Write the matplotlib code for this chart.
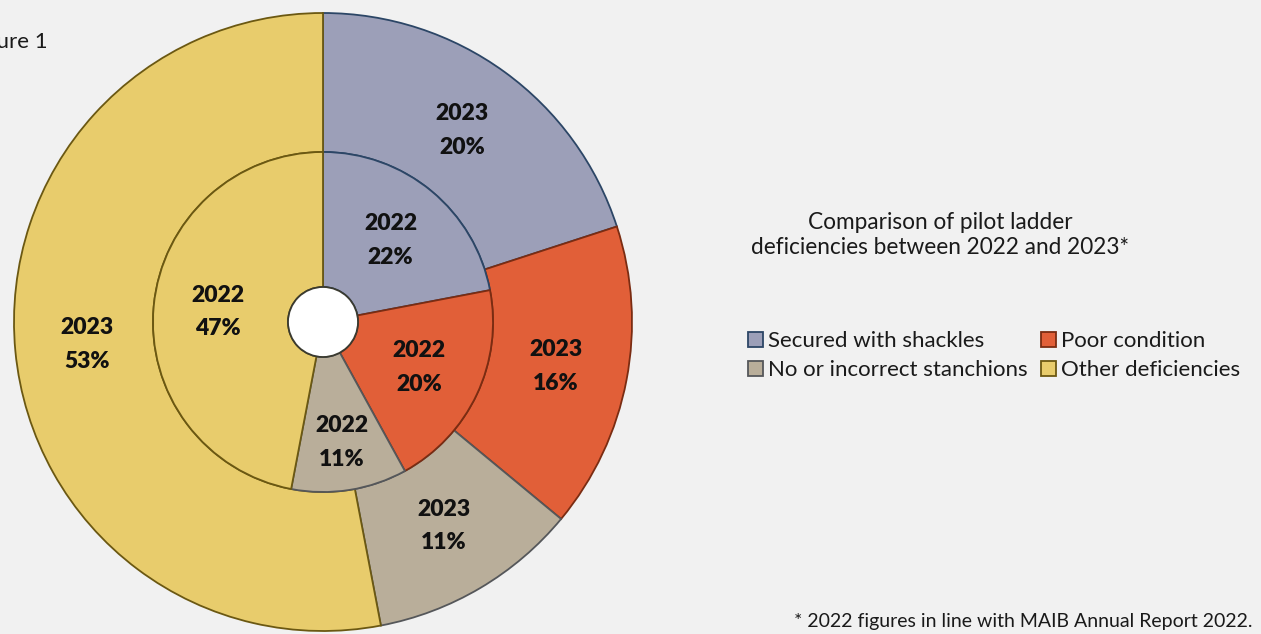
import matplotlib
matplotlib.use("Agg")
import matplotlib.pyplot as plt
from matplotlib.patches import Circle
import numpy as np

categories = ["Secured with shackles", "Poor condition",
              "No or incorrect stanchions", "Other deficiencies"]
share_2023 = [20, 16, 11, 53]
share_2022 = [22, 20, 11, 47]

fills = ["#9c9fb8", "#e15f38", "#b9ae9a", "#e8cc6c"]
edges = ["#2c4666", "#7a2c12", "#55575a", "#6b5812"]
bg = "#f1f1f1"

W, H = 1261, 634
fig = plt.figure(figsize=(W / 100, H / 100), dpi=100, facecolor=bg)
ax = fig.add_axes([0, 0, 1, 1])
ax.set_facecolor(bg)

cx, cy = 323, H - 322
r_out, r_in, r_hole = 309, 170, 35

outer, _ = ax.pie(share_2023, colors=fills, startangle=90, counterclock=False,
                  radius=r_out, center=(cx, cy),
                  wedgeprops=dict(width=r_out - r_in, linewidth=1.3))
inner, _ = ax.pie(share_2022, colors=fills, startangle=90, counterclock=False,
                  radius=r_in, center=(cx, cy),
                  wedgeprops=dict(width=r_in - r_hole, linewidth=1.3))
for w, ec in zip(list(outer) + list(inner), edges + edges):
    w.set_edgecolor(ec)
ax.add_patch(Circle((cx, cy), r_hole, facecolor="white", edgecolor="#3a3a30",
                    linewidth=1.3, zorder=5))

label_font = dict(family="Lato", weight="heavy", fontsize=16.5, ha="center",
                  va="center", linespacing=1.75, color="#111111")


def put_labels(wedges, values, year, r):
    for w, v in zip(wedges, values):
        mid = np.deg2rad((w.theta1 + w.theta2) / 2)
        # narrow wedges get their label pushed a bit further out
        rr = r * 1.15 if (w.theta2 - w.theta1) < 45 and r < 150 else r
        ax.text(cx + rr * np.cos(mid), cy + rr * np.sin(mid),
                f"{year}\n{v}%", **label_font)


put_labels(outer, share_2023, 2023, 237)
put_labels(inner, share_2022, 2022, 106)

# figure number sits partly off the left edge, as in the source page
ax.text(48, H - 42, "Figure 1", ha="right", va="center",
        fontsize=16, family="Lato", color="#1a1a1a")

ax.text(940, H - 235, "Comparison of pilot ladder\ndeficiencies between 2022 and 2023*",
        ha="center", va="center", fontsize=16.3, family="Lato",
        linespacing=1.25, color="#1a1a1a")

# legend fills column-wise, so order the handles to read across rows
order = [0, 2, 1, 3]
leg = ax.legend([outer[i] for i in order], [categories[i] for i in order],
                ncol=2, frameon=False,
                loc="upper left", bbox_to_anchor=(737, H - 320),
                bbox_transform=ax.transData,
                prop=dict(family="Lato", size=16),
                handlelength=0.65, handleheight=0.65, handletextpad=0.25,
                columnspacing=0.6, labelspacing=0.4, borderpad=0)
for t in leg.get_texts():
    t.set_color("#1a1a1a")

ax.text(1252, H - 622, "* 2022 figures in line with MAIB Annual Report 2022.",
        ha="right", va="center", fontsize=14, family="Lato", color="#1a1a1a")

ax.set_xlim(0, W)
ax.set_ylim(0, H)
ax.set_aspect("equal")
ax.axis("off")

fig.savefig("out.png", dpi=100, facecolor=bg)
